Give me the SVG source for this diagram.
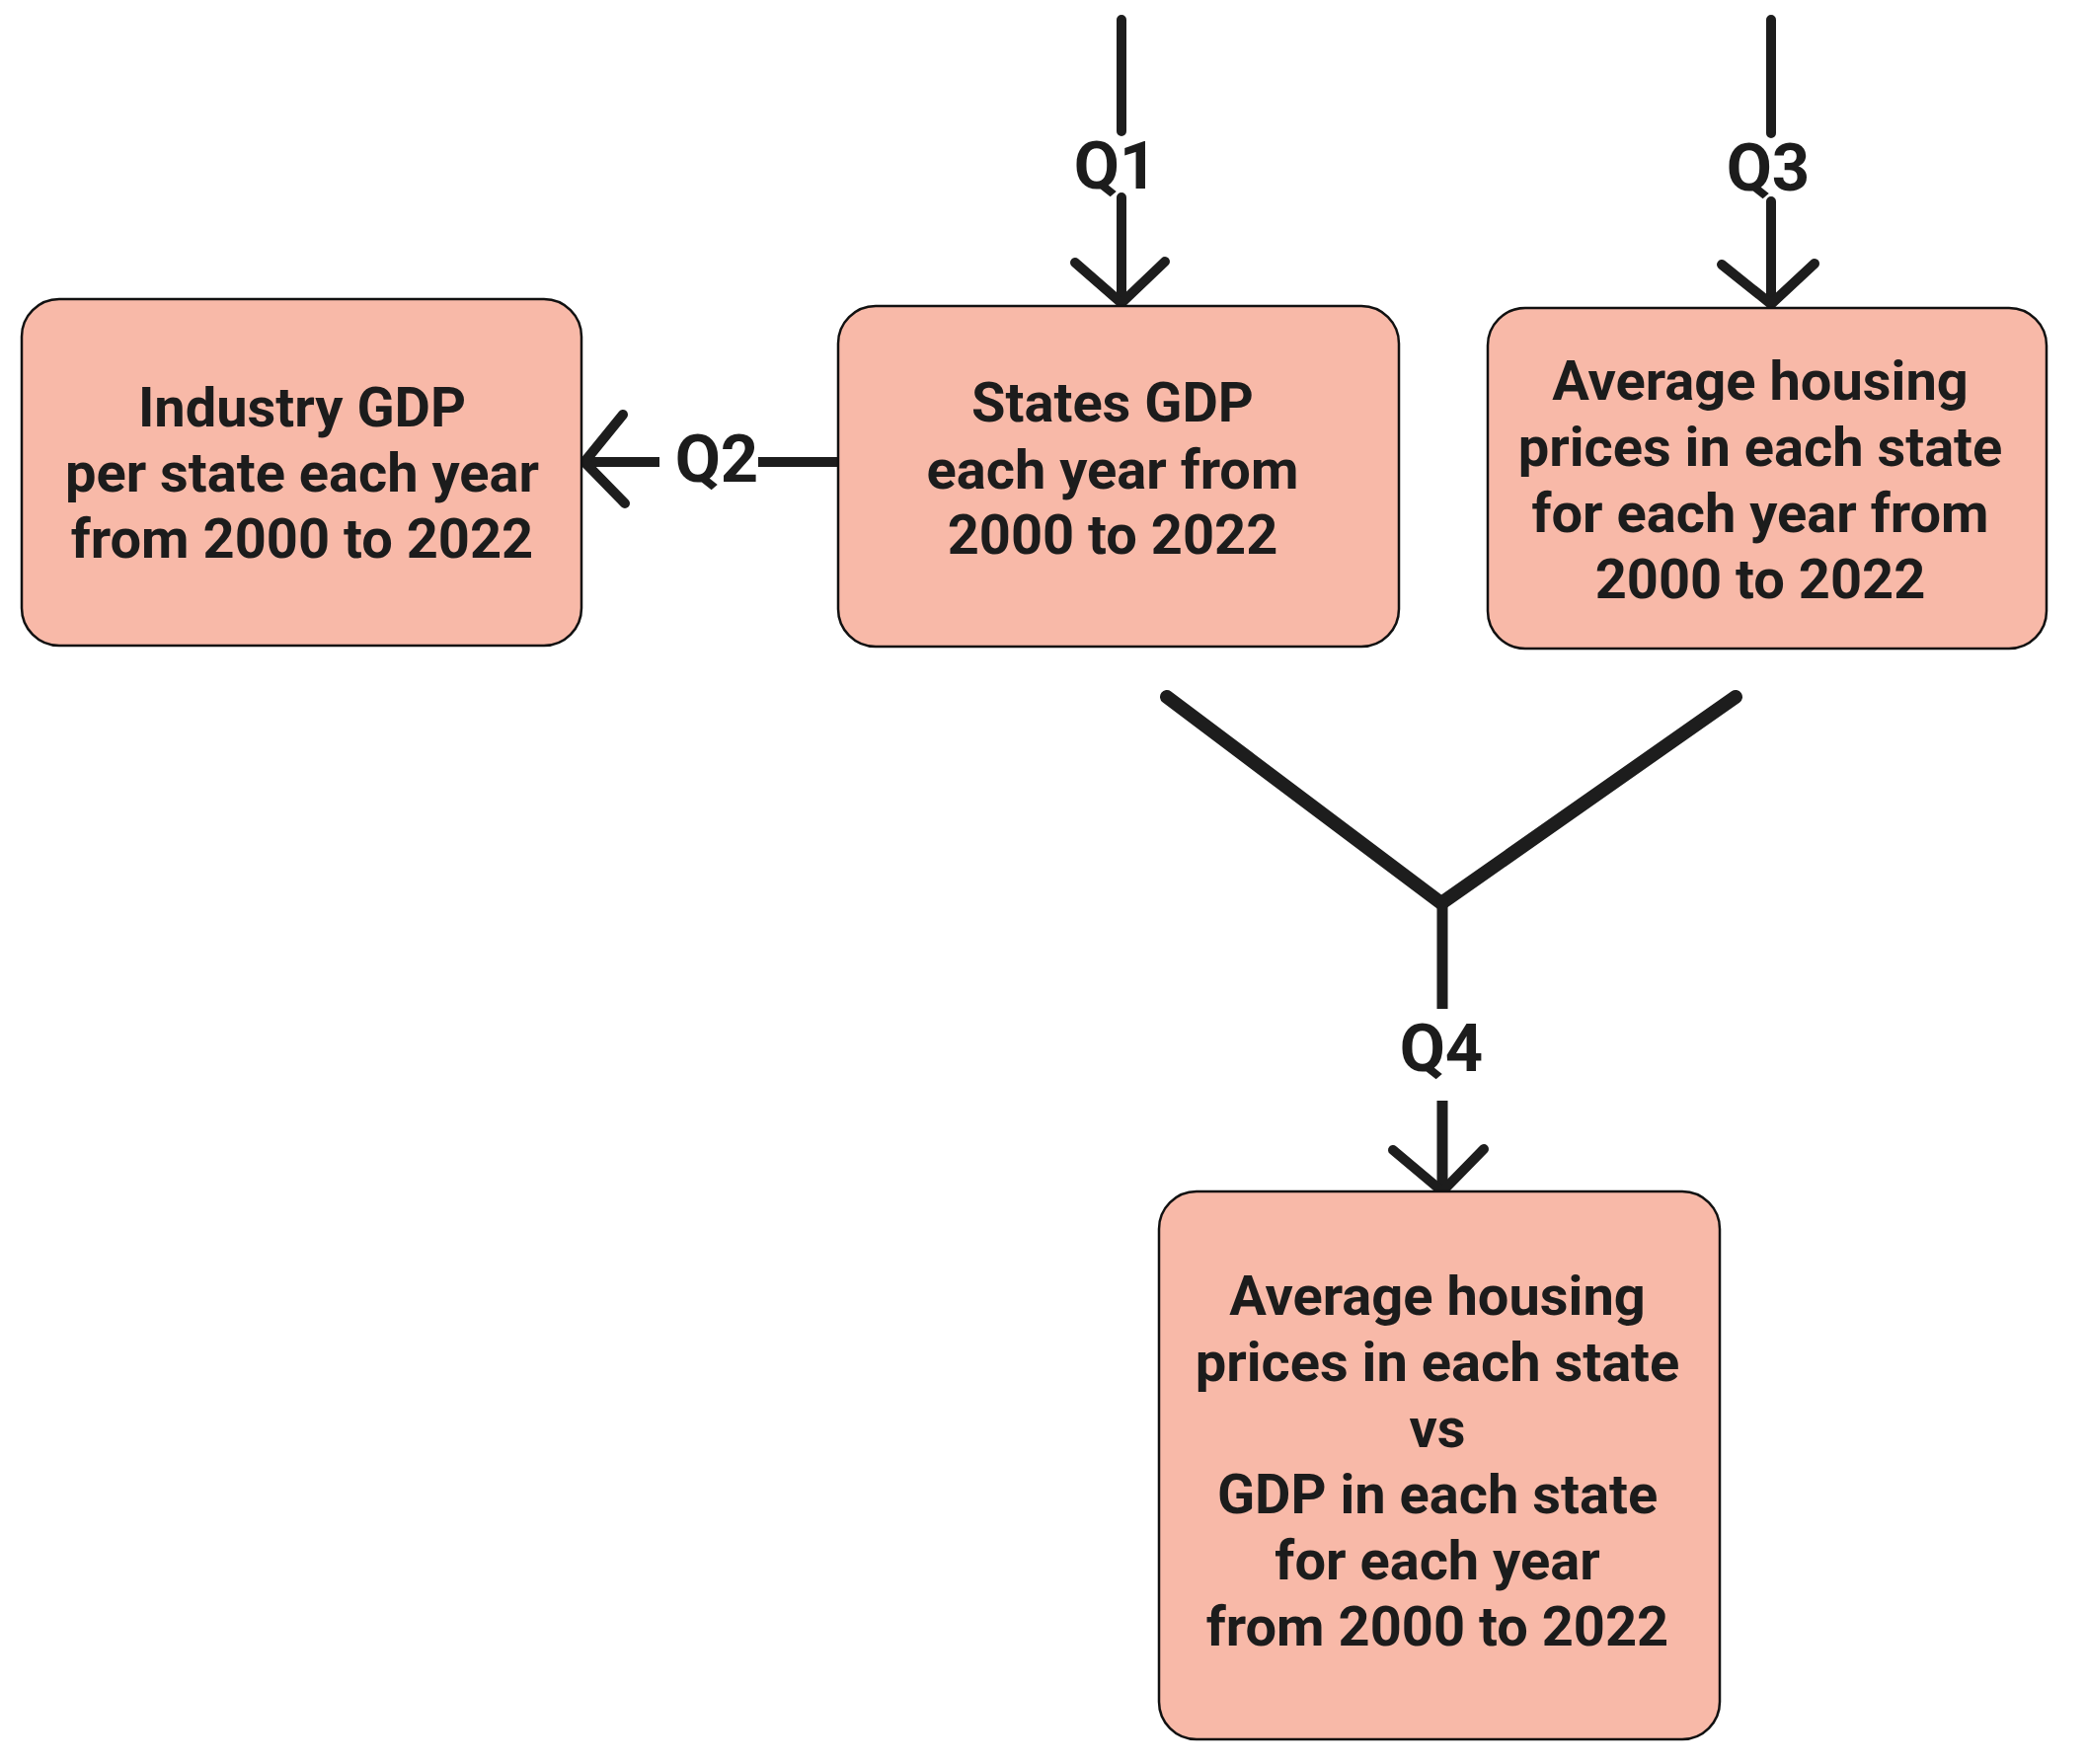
<svg xmlns="http://www.w3.org/2000/svg" width="2114" height="1787" viewBox="0 0 2114 1787">
  <style>
    .box { fill: #f8b9a8; stroke: #111111; stroke-width: 2.5; }
    .t { font-family: Roboto, "Liberation Sans", sans-serif; font-weight: 700; font-size: 56px; fill: #1c1c1c; text-anchor: middle; }
    .q { font-family: Roboto, "Liberation Sans", sans-serif; font-weight: 700; font-size: 67px; fill: #1c1c1c; text-anchor: middle; }
    .ln { fill: none; stroke: #1d1d1d; stroke-width: 10; stroke-linecap: round; stroke-linejoin: round; }
    .thick { stroke-width: 14; }
  </style>
  <rect width="2114" height="1787" fill="#ffffff"/>

  <g id="connectors">
    <!-- Q1 -->
    <path class="ln" d="M1136 20 V133 M1136 200 V307"/>
    <polyline class="ln" points="1089,266 1136,307 1180,265"/>
    <!-- Q3 -->
    <path class="ln" d="M1794 20 V135 M1794 204 V308"/>
    <polyline class="ln" points="1744,268 1794,308 1838,267"/>
    <!-- Q2 -->
    <path class="ln" style="stroke-linecap:butt" d="M849 468 H768 M668 468 H594"/>
    <polyline class="ln" points="631,420 592,468 633,510"/>
    <!-- Q4 -->
    <polyline class="ln thick" points="1182,706 1460,915 1758,706"/>
    <path class="ln" style="stroke-linecap:butt;stroke-width:11" d="M1461 912 V1022 M1461 1115 V1205"/>
    <polyline class="ln" points="1411,1165 1461,1207 1503,1164"/>
    <text class="q" x="1130" y="191">Q1</text>
    <text class="q" x="726" y="488">Q2</text>
    <text class="q" x="1791" y="193">Q3</text>
    <text class="q" x="1460" y="1085">Q4</text>
  </g>

  <g id="node-industry-gdp">
    <rect class="box" x="22" y="303" width="567" height="351" rx="38"/>
    <text class="t" x="306" y="432">Industry GDP</text>
    <text class="t" x="306" y="498">per state each year</text>
    <text class="t" x="306" y="565">from 2000 to 2022</text>
  </g>

  <g id="node-states-gdp">
    <rect class="box" x="849" y="310" width="568" height="345" rx="38"/>
    <text class="t" x="1127" y="427">States GDP</text>
    <text class="t" x="1127" y="495">each year from</text>
    <text class="t" x="1127" y="561">2000 to 2022</text>
  </g>

  <g id="node-housing-prices">
    <rect class="box" x="1507" y="312" width="566" height="345" rx="38"/>
    <text class="t" x="1783" y="405">Average housing</text>
    <text class="t" x="1783" y="472">prices in each state</text>
    <text class="t" x="1783" y="539">for each year from</text>
    <text class="t" x="1783" y="606">2000 to 2022</text>
  </g>

  <g id="node-housing-vs-gdp">
    <rect class="box" x="1174" y="1207" width="568" height="555" rx="38"/>
    <text class="t" x="1456" y="1332">Average housing</text>
    <text class="t" x="1456" y="1399">prices in each state</text>
    <text class="t" x="1456" y="1466">vs</text>
    <text class="t" x="1456" y="1533">GDP in each state</text>
    <text class="t" x="1456" y="1600">for each year</text>
    <text class="t" x="1456" y="1667">from 2000 to 2022</text>
  </g>
</svg>
